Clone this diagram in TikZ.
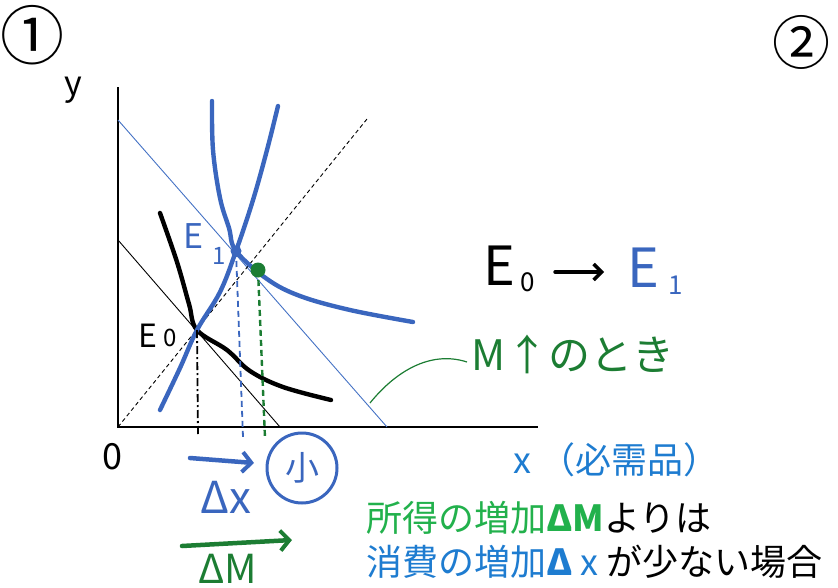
\documentclass[tikz,border=0pt]{standalone}
\usepackage{fontspec}
\setmainfont{Noto Sans CJK JP}
\usetikzlibrary{arrows.meta}
\definecolor{hblue}{HTML}{3A66BE}
\definecolor{lblue}{HTML}{4472C4}
\definecolor{hgreen}{HTML}{1C7D33}
\definecolor{tgreen}{HTML}{22B14C}
\definecolor{tblue}{HTML}{1E7CD0}

\begin{document}
\begin{tikzpicture}[
  x=1pt, y=-1pt,
  axis/.style={line width=1.2pt},
  budget/.style={line width=0.9pt},
  icurve/.style={line width=4.4pt, line cap=round, line join=round},
  drop/.style={line width=1.8pt, dash pattern=on 6pt off 4pt},
  hand/.style={inner sep=0pt, font=\fontsize{30}{30}\selectfont},
  txt/.style={inner sep=0pt, anchor=west, font=\fontsize{36}{40}\selectfont},
  harrow/.style={line width=4.5pt, line cap=round, -{Straight Barb[length=9pt, width=20pt, line width=4pt]}}
]
\useasboundingbox (0,0) rectangle (838,587);

\coordinate (O) at (118,427);
\coordinate (ytop) at (118,87);
\coordinate (xend) at (538,427);
\coordinate (E0) at (197,330);
\coordinate (E1) at (236,251);
\coordinate (Eg) at (258,270);

\node[inner sep=0pt, font=\fontsize{64}{64}\selectfont] (num1) at (32,35) {①};
\node[inner sep=0pt, font=\fontsize{58}{58}\selectfont] (num2) at (801,42) {②};
\node[inner sep=0pt, font=\fontsize{34}{34}\selectfont] (ylab) at (73,90) {y};
\node[inner sep=0pt, font=\fontsize{36}{36}\selectfont] (zero) at (112,457) {0};
\node[txt, text=tblue] (xlab) at (513,460) {x （必需品）};
\node[txt] (line1) at (366,518) {\textcolor{tgreen}{所得の増加\textbf{ΔM}}よりは};
\node[txt] (line2) at (366,562) {\textcolor{tblue}{消費の増加\textbf{Δ} x }が少ない場合};

% axes and budget lines
\draw[axis] (ytop) -- (O) -- (xend);
\draw[budget] (118,240) -- (280,427);
\draw[budget, lblue] (118,120) -- (387,427);
\draw[line width=0.9pt, dash pattern=on 4pt off 3pt] (O) -- (367,119);

% indifference curves
\draw[icurve] plot[smooth, tension=0.6] coordinates {(160,213) (177,262) (189,304) (E0) (227,350) (250,371) (283,387) (331,400)};
\draw[icurve, hblue] plot[smooth, tension=0.6] coordinates {(212,101) (213,150) (220,198) (229,228) (E1) (267,279) (300,296) (350,310) (413,322)};
\draw[icurve, hblue] plot[smooth, tension=0.6] coordinates {(278,106) (267,150) (253,200) (E1) (220,292) (E0) (180,368) (160,410)};

% drops to the x axis
\draw[drop, dash pattern=on 8pt off 3pt on 2pt off 3pt] (E0) -- (198,434);
\draw[drop, hblue] (E1) -- (243,437);
\draw[drop, hgreen, line width=2.4pt] (Eg) -- (265,438);
\fill[hblue] (E1) circle (5.5pt);
\fill[hgreen] (Eg) circle (7.5pt);

\node[hand, text=hblue, font=\fontsize{34}{34}\selectfont] (E1lab) at (194,236) {E};
\node[hand, text=hblue, font=\fontsize{24}{24}\selectfont] (E1sub) at (219,256) {1};
\node[hand, font=\fontsize{32}{32}\selectfont] (E0lab) at (148,336) {E};
\node[hand, font=\fontsize{24}{24}\selectfont] (E0sub) at (170,338) {0};

% E0 -> E1
\node[hand, font=\fontsize{54}{54}\selectfont] (Efrom) at (499,266) {E};
\node[hand, font=\fontsize{26}{26}\selectfont] (Efromsub) at (528,282) {0};
\node[hand, text=hblue, font=\fontsize{54}{54}\selectfont] (Eto) at (643,268) {E};
\node[hand, text=hblue, font=\fontsize{26}{26}\selectfont] (Etosub) at (676,285) {1};
\draw[line width=3.4pt, line cap=round, -{Straight Barb[length=8pt, width=16pt, line width=3.4pt]}] (555,272) coordinate (arrS) -- (604,272) coordinate (arrE);

% income rises
\node[hand, text=hgreen, font=\fontsize{42}{42}\selectfont] (Mup) at (573,354) {M↑のとき};
\draw[hgreen, line width=1.2pt] (370,403) .. controls (395,372) and (430,350) .. (467,362);

% changes below the axis
\draw[harrow, hblue] (190,458) coordinate (dxS) -- (254,463) coordinate (dxE);
\node[hand, text=hblue, font=\fontsize{44}{44}\selectfont] (dx) at (226,497) {Δx};
\node[draw=hblue, text=hblue, circle, line width=3pt, minimum size=70pt, inner sep=0pt, font=\fontsize{34}{34}\selectfont] (small) at (302,468) {小};
\draw[harrow, hgreen] (182,546) coordinate (dMS) -- (292,540) coordinate (dME);
\node[hand, text=hgreen, font=\fontsize{40}{40}\selectfont] (dM) at (228,569) {ΔM};
\end{tikzpicture}
\end{document}
